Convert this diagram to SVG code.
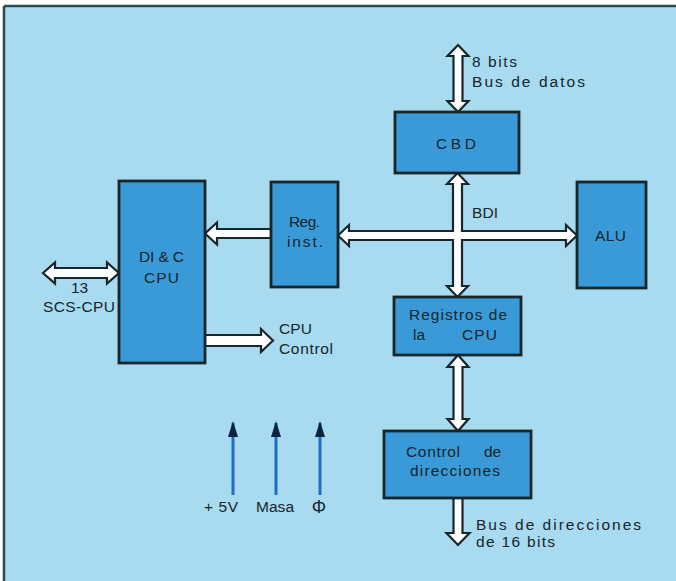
<svg xmlns="http://www.w3.org/2000/svg" width="676" height="581" viewBox="0 0 676 581">
<defs>
<style>
.box{fill:#3a9ad8;stroke:#17262a;stroke-width:2.8}
.bus{fill:#ffffff;stroke:#17262a;stroke-width:2.2;stroke-linejoin:miter}
.t{font-family:"Liberation Sans",Arial,sans-serif;font-size:15.5px;fill:#16262a}
.pin{stroke:#1f6fc0;stroke-width:3;fill:none}
</style>
<marker id="ah" viewBox="0 0 16 10" refX="14" refY="5" markerWidth="16" markerHeight="10" markerUnits="userSpaceOnUse" orient="auto">
<path d="M0,0 L16,5 L0,10 Z" fill="#0d2440"/>
</marker>
</defs>
<rect x="0" y="0" width="676" height="581" fill="#ffffff"/>
<rect x="4" y="6" width="672" height="575" fill="#a8daf0"/>
<line x1="4" y1="6" x2="676" y2="6" stroke="#2a4a52" stroke-width="2.5"/>
<line x1="4" y1="6" x2="4" y2="581" stroke="#2a4a52" stroke-width="2.5"/>

<g id="connectors">
<polygon class="bus" points="458,45 468.5,56 462.5,56 462.5,101 468.5,101 458,112 447.5,101 453.5,101 453.5,56 447.5,56"/>
<polygon class="bus" points="457.5,173 468,184 462,184 462,231 566,231 566,225 577,235.5 566,246 566,240 462,240 462,286 468,286 457.5,297 447,286 453,286 453,240 349,240 349,246 338,235.5 349,225 349,231 453,231 453,184 447,184"/>
<polygon class="bus" points="205,233.5 217,222.5 217,229 271,229 271,238 217,238 217,244.5"/>
<polygon class="bus" points="43,273 55,262.5 55,268 107,268 107,262.5 119,273 107,283.5 107,278 55,278 55,283.5"/>
<polygon class="bus" points="205,335 261,335 261,329 273,340.5 261,352 261,346 205,346"/>
<polygon class="bus" points="458,355 468.5,367 462.5,367 462.5,419 468.5,419 458,431 447.5,419 453.5,419 453.5,367 447.5,367"/>
<polygon class="bus" points="453.5,498 462.5,498 462.5,533 469.5,533 458,545 446.5,533 453.5,533"/>
<line class="pin" x1="233" y1="495" x2="233" y2="423" marker-end="url(#ah)"/>
<line class="pin" x1="276" y1="495" x2="276" y2="423" marker-end="url(#ah)"/>
<line class="pin" x1="320" y1="495" x2="320" y2="423" marker-end="url(#ah)"/>
</g>

<g id="cbd">
<rect class="box" x="395" y="112" width="124" height="61"/>
<text class="t" x="436" y="149" textLength="40" lengthAdjust="spacing">CBD</text>
</g>
<g id="dic-cpu">
<rect class="box" x="119" y="181" width="86" height="182"/>
<text class="t" x="139" y="262" textLength="45" lengthAdjust="spacing">DI &amp; C</text>
<text class="t" x="144" y="283" textLength="35" lengthAdjust="spacing">CPU</text>
</g>
<g id="reg-inst">
<rect class="box" x="271" y="182" width="67" height="105"/>
<text class="t" x="289" y="227" textLength="31" lengthAdjust="spacing">Reg.</text>
<text class="t" x="287" y="247" textLength="36" lengthAdjust="spacing">inst.</text>
</g>
<g id="alu">
<rect class="box" x="577" y="182" width="69" height="106"/>
<text class="t" x="595" y="241" textLength="31" lengthAdjust="spacing">ALU</text>
</g>
<g id="registros">
<rect class="box" x="394" y="297" width="127" height="58"/>
<text class="t" x="409" y="320" textLength="98" lengthAdjust="spacing">Registros de</text>
<text class="t" x="413" y="340" textLength="12" lengthAdjust="spacing">la</text>
<text class="t" x="462" y="340" textLength="35" lengthAdjust="spacing">CPU</text>
</g>
<g id="control-dir">
<rect class="box" x="384" y="431" width="147" height="67"/>
<text class="t" x="406" y="457" textLength="54" lengthAdjust="spacing">Control</text>
<text class="t" x="484" y="457" textLength="17" lengthAdjust="spacing">de</text>
<text class="t" x="410" y="476" textLength="90" lengthAdjust="spacing">direcciones</text>
</g>

<g id="labels">
<text class="t" x="472" y="67" textLength="45" lengthAdjust="spacing">8 bits</text>
<text class="t" x="472" y="87" textLength="113" lengthAdjust="spacing">Bus de datos</text>
<text class="t" x="472" y="218" textLength="26" lengthAdjust="spacing">BDI</text>
<text class="t" x="71" y="293" textLength="17" lengthAdjust="spacing">13</text>
<text class="t" x="43" y="312" textLength="72" lengthAdjust="spacing">SCS-CPU</text>
<text class="t" x="279" y="334" textLength="33" lengthAdjust="spacing">CPU</text>
<text class="t" x="279" y="354" textLength="54" lengthAdjust="spacing">Control</text>
<text class="t" x="476" y="530" textLength="165" lengthAdjust="spacing">Bus de direcciones</text>
<text class="t" x="476" y="547" textLength="79" lengthAdjust="spacing">de 16 bits</text>
<text class="t" x="204" y="512" textLength="34" lengthAdjust="spacing">+ 5V</text>
<text class="t" x="256" y="512" textLength="38" lengthAdjust="spacing">Masa</text>
<text class="t" x="319" y="513" text-anchor="middle" style="font-size:18px">Φ</text>
</g>
</svg>
